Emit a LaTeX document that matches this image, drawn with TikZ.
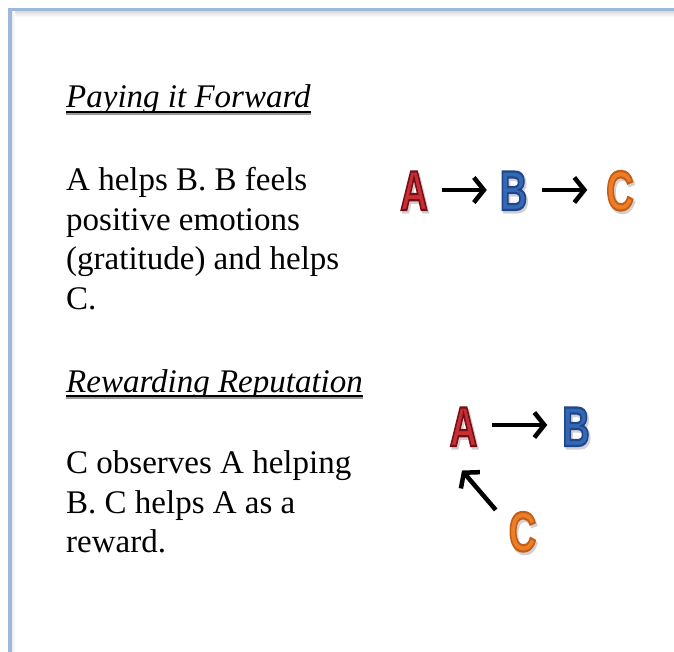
\documentclass[tikz,border=0pt]{standalone}
\usepackage{fontspec}
\setmainfont{Liberation Serif}
\newfontfamily\lettfont{Liberation Sans}
\usetikzlibrary{arrows.meta}

\definecolor{frameblue}{RGB}{158,184,216}
\definecolor{redfill}{RGB}{200,46,52}
\definecolor{bluefill}{RGB}{52,104,178}
\definecolor{orangefill}{RGB}{236,126,40}

% a bold, condensed capital, filled and stroked with a darker rim,
% over a light drop shadow (#2 is the rim colour as PDF rgb operands)
\newcommand\glyphfx[3]{%
  \scalebox{0.68}[1]{%
    \rlap{\kern2.5bp\raisebox{-2.5bp}{\textcolor{black!18}{%
      \special{pdf:code q 2 Tr 2.4 w}#3\special{pdf:code Q}}}}%
    \textcolor{#1}{%
    \special{pdf:code q 2 Tr 2.2 w #2 RG}#3\special{pdf:code Q}}}}

\begin{document}
\begin{tikzpicture}[x=1bp,y=-1bp,
  heading/.style={anchor=base west, inner sep=0pt,
    font=\fontsize{33bp}{39.7bp}\selectfont\itshape},
  para/.style={anchor=base west, inner sep=0pt,
    font=\fontsize{33bp}{39.7bp}\selectfont},
  uline/.style={line width=2bp, black},
  ushadow/.style={line width=2bp, black!40},
  lett/.style={inner sep=0pt, outer sep=0pt,
    font=\lettfont\bfseries\fontsize{56bp}{56bp}\selectfont},
  arr/.style={line width=4.5bp,
    -{Straight Barb[length=10bp,width=25bp,line width=4.5bp]}}]

\useasboundingbox (0,0) rectangle (674,652);

% page frame with its soft shadow
\shade[top color=black!14, bottom color=white] (11.5,11.2) rectangle (674,17);
\shade[left color=black!8, right color=white] (11.7,11.2) rectangle (15,652);
\draw[frameblue, line width=3.6bp] (10,652) -- (10,9.5) -- (674,9.5);

% first scheme
\node[heading] (t1) at (66,108) {Paying it Forward};
\draw[ushadow] ([shift={(0,6)}]t1.base west) -- ([shift={(0,6)}]t1.base east);
\draw[uline] ([shift={(0,4)}]t1.base west) -- ([shift={(0,4)}]t1.base east);

\node[para] (p1) at (66,190.5) {\parbox[t]{320bp}{A helps B. B feels\\
positive emotions\\(gratitude) and helps\\C.}};

\node[lett] (A1) at (414,192) {\glyphfx{redfill}{0.46 0.06 0.09}{A}};
\node[lett] (B1) at (513.5,192) {\glyphfx{bluefill}{0.12 0.27 0.55}{B}};
\node[lett] (C1) at (620,192) {\glyphfx{orangefill}{0.78 0.36 0.08}{C}};
\draw[arr] ([shift={(14,-2)}]A1.east) -- ([shift={(-13,-2)}]B1.west);
\draw[arr] ([shift={(15,-2)}]B1.east) -- ([shift={(-19,-2)}]C1.west);

% second scheme
\node[heading] (t2) at (66,392) {Rewarding Reputation};
\draw[ushadow] ([shift={(0,6)}]t2.base west) -- ([shift={(0,6)}]t2.base east);
\draw[uline] ([shift={(0,4)}]t2.base west) -- ([shift={(0,4)}]t2.base east);

\node[para] (p2) at (66,473.5) {\parbox[t]{320bp}{C observes A helping\\
B. C helps A as a\\reward.}};

\node[lett] (A2) at (463.5,428) {\glyphfx{redfill}{0.46 0.06 0.09}{A}};
\node[lett] (B2) at (576,428) {\glyphfx{bluefill}{0.12 0.27 0.55}{B}};
\node[lett] (C2) at (522.5,533) {\glyphfx{orangefill}{0.78 0.36 0.08}{C}};
\draw[arr] ([shift={(15,-3)}]A2.east) -- ([shift={(-15,-3)}]B2.west);
\draw[arr] ([shift={(-13,-2)}]C2.north west) -- ([shift={(-1.5,22)}]A2.south);

\end{tikzpicture}
\end{document}
